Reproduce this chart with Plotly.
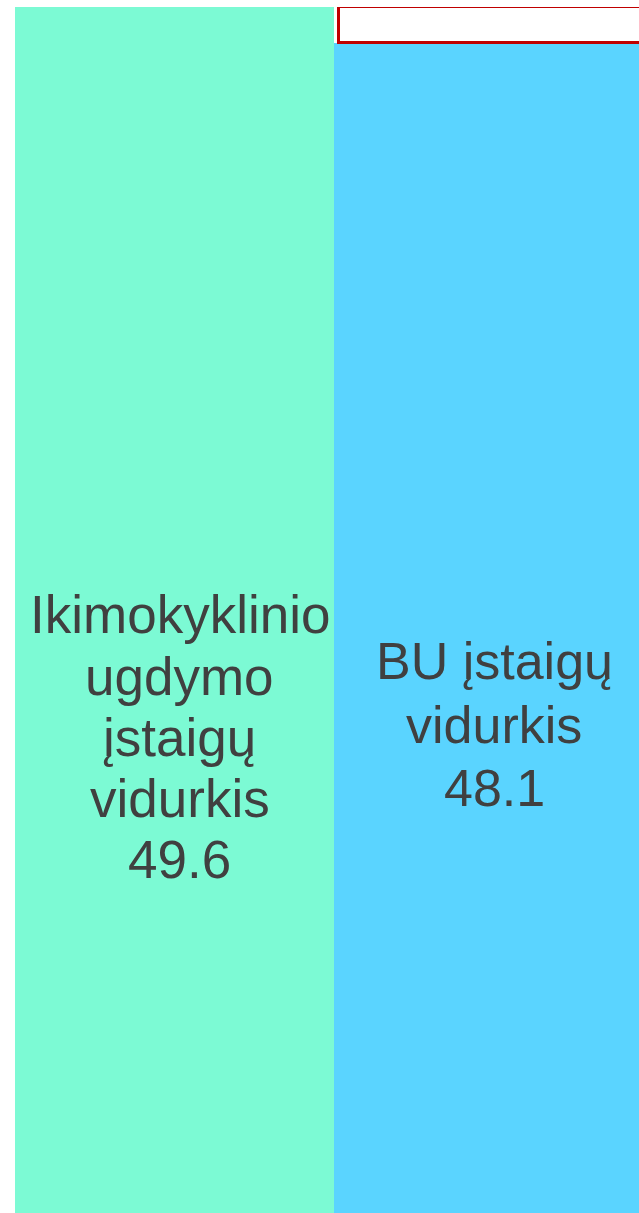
import plotly.graph_objects as go

# ---- data ----
categories = ["Ikimokyklinio ugdymo įstaigų vidurkis", "BU įstaigų vidurkis"]
values = [49.6, 48.1]
label_lines = [
    ["Ikimokyklinio", "ugdymo", "įstaigų", "vidurkis"],
    ["BU įstaigų", "vidurkis"],
]
bar_colors = ["#7CFAD4", "#5AD4FF"]

W, H = 639, 1213
ML, MT = 15, 7
bar_px = 319

fig = go.Figure()
fig.add_trace(go.Bar(
    x=[0, 1], y=values, width=1,
    marker=dict(color=bar_colors, line=dict(width=0)),
    hoverinfo="skip", showlegend=False,
))
# difference segment (white box with red border)
fig.add_trace(go.Bar(
    x=[1], base=[values[1]], y=[values[0] - values[1]],
    width=0.98, offset=-0.485, cliponaxis=False,
    marker=dict(color="white", line=dict(color="#C00000", width=3)),
    hoverinfo="skip", showlegend=False,
))

font_l = dict(family="Liberation Sans, Arial, sans-serif", size=53, color="#404040")
font_r = dict(family="Liberation Sans, Arial, sans-serif", size=52, color="#404040")
plot_h = H - MT

def paper_y(page_px):
    return (H - page_px) / plot_h

annotations = []
lines0 = label_lines[0] + [f"{values[0]}"]
for i, t in enumerate(lines0):
    base = 633.5 + i * 61.2
    annotations.append(dict(x=0, xref="x", xshift=5, y=paper_y(base - 18.5), yref="paper",
                            text=t, showarrow=False, font=font_l, xanchor="center", yanchor="middle"))
lines1 = label_lines[1] + [f"{values[1]}"]
for i, t in enumerate(lines1):
    base = 679.5 + i * 63
    annotations.append(dict(x=1, xref="x", xshift=0.5, y=paper_y(base - 18), yref="paper",
                            text=t, showarrow=False, font=font_r, xanchor="center", yanchor="middle"))

fig.update_layout(
    width=W, height=H,
    margin=dict(l=ML, r=0, t=MT, b=0, pad=0),
    barmode="overlay", bargap=0,
    paper_bgcolor="white", plot_bgcolor="white",
    xaxis=dict(range=[-0.5, -0.5 + (W - ML) / bar_px], visible=False, fixedrange=True),
    yaxis=dict(range=[0, values[0]], visible=False, fixedrange=True),
    annotations=annotations,
    showlegend=False,
)

fig.write_html("out.html", config={"displayModeBar": False},
               post_script="document.body.style.margin='0';")
